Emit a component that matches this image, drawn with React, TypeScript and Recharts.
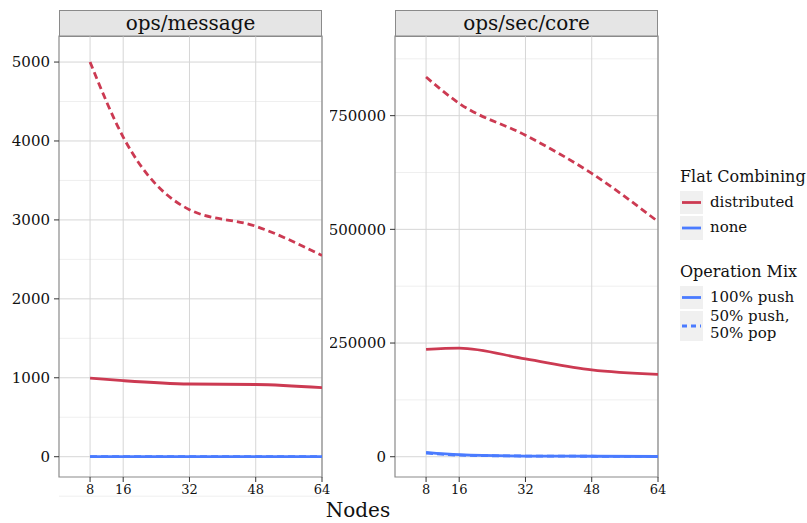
import { LineChart, Line, XAxis, YAxis, CartesianGrid, ReferenceArea } from 'recharts';

const FONT = '"DejaVu Serif", serif';
const RED = '#cc3a52';
const BLUE = '#4a7bff';

const nodes = [8, 16, 32, 48, 64];

// ops/message
const msgDistPush = [995, 963, 921, 915, 875];
const msgDistMix = [5000, 4050, 3130, 2920, 2550];
const msgNonePush = [0, 0, 0, 0, 0];
const msgNoneMix = [0, 0, 0, 0, 0];
const msgTicks = [0, 1000, 2000, 3000, 4000, 5000];
const msgMinor = [-500, 500, 1500, 2500, 3500, 4500];
const msgDomain = [-257, 5330];

// ops/sec/core
const coreDistPush = [236000, 239000, 215000, 191000, 181000];
const coreDistMix = [835000, 777000, 707000, 623000, 517000];
const coreNonePush = [9700, 4400, 1500, 1000, 500];
const coreNoneMix = [8000, 3500, 1500, 1000, 500];
const coreTicks = [0, 250000, 500000, 750000];
const coreMinor = [125000, 375000, 625000, 875000];
const coreDomain = [-44600, 925200];

const xDomain = [0.5, 64];

function rows(a: number[], b: number[], c: number[], d: number[]) {
  return nodes.map((n, i) => ({ nodes: n, distPush: a[i], distMix: b[i], nonePush: c[i], noneMix: d[i] }));
}

function Panel(props: {
  title: string; left: number; yWidth: number; data: any[];
  ticks: number[]; minor: number[]; domain: number[];
}) {
  const { title, left, yWidth, data, ticks, minor, domain } = props;
  const plotW = 263;
  const width = yWidth + plotW + 8;
  return (
    <div style={{ position: 'absolute', left, top: 0, width, height: 523 }}>
      <div style={{
        position: 'absolute', left: yWidth, top: 10, width: plotW, height: 27,
        background: '#e5e5e5', border: '1px solid #8a8a8a', boxSizing: 'border-box',
        fontFamily: FONT, fontSize: 20, lineHeight: '24px', textAlign: 'center', color: '#111',
      }}>{title}</div>
      <LineChart width={width} height={523} data={data}
        margin={{ top: 36, right: 8, bottom: 16, left: 0 }}>
        <CartesianGrid horizontalValues={minor} vertical={false} stroke="#efefef" strokeWidth={1} />
        <CartesianGrid horizontalValues={ticks} verticalValues={nodes} stroke="#d6d6d6" strokeWidth={1} />
        <XAxis dataKey="nodes" type="number" domain={xDomain} ticks={nodes} allowDataOverflow
          height={30} axisLine={false} tickSize={5} tickMargin={3} interval={0}
          tickLine={{ stroke: '#333' }}
          tick={{ fill: '#111', fontSize: 13, fontFamily: FONT }} />
        <YAxis type="number" domain={domain} ticks={ticks} allowDataOverflow
          width={yWidth} axisLine={false} tickSize={5} tickMargin={4} interval={0}
          tickLine={{ stroke: '#333' }}
          tick={{ fill: '#111', fontSize: 15, fontFamily: FONT }} />
        <Line dataKey="distMix" type="monotone" stroke={RED} strokeWidth={2.8} strokeDasharray="7 4" dot={false} isAnimationActive={false} />
        <Line dataKey="distPush" type="monotone" stroke={RED} strokeWidth={2.8} dot={false} isAnimationActive={false} />
        <Line dataKey="noneMix" type="monotone" stroke={BLUE} strokeWidth={2.8} strokeDasharray="7 4" dot={false} isAnimationActive={false} />
        <Line dataKey="nonePush" type="monotone" stroke={BLUE} strokeWidth={2.8} dot={false} isAnimationActive={false} />
        <ReferenceArea x1={xDomain[0]} x2={xDomain[1]} y1={domain[0]} y2={domain[1]}
          fill="none" stroke="#8a8a8a" strokeWidth={1.2} ifOverflow="visible" />
      </LineChart>
    </div>
  );
}

function Key(props: { top: number; height: number; color: string; dashed?: boolean }) {
  const { top, height, color, dashed } = props;
  return (
    <div style={{ position: 'absolute', left: 680, top, width: 23, height, background: '#f0f0f0' }}>
      <svg width={23} height={height} style={{ display: 'block' }}>
        <line x1={2} x2={21} y1={height / 2} y2={height / 2} stroke={color} strokeWidth={2.8}
          strokeDasharray={dashed ? '5 4' : undefined} />
      </svg>
    </div>
  );
}

const labelStyle = { position: 'absolute' as const, left: 710, fontFamily: FONT, fontSize: 15, color: '#111', lineHeight: '17px' };

export default function App() {
  return (
    <div style={{ position: 'fixed', left: 0, top: 0, width: 807, height: 523, background: '#fff' }}>
      <Panel title="ops/message" left={0} yWidth={59}
        data={rows(msgDistPush, msgDistMix, msgNonePush, msgNoneMix)}
        ticks={msgTicks} minor={msgMinor} domain={msgDomain} />
      <Panel title="ops/sec/core" left={330} yWidth={65}
        data={rows(coreDistPush, coreDistMix, coreNonePush, coreNoneMix)}
        ticks={coreTicks} minor={coreMinor} domain={coreDomain} />

      <div style={{ position: 'absolute', left: 0, top: 498, width: 716, textAlign: 'center', fontFamily: FONT, fontSize: 20, color: '#111' }}>Nodes</div>

      <div style={{ ...labelStyle, left: 680, top: 168, fontSize: 16 }}>Flat Combining</div>
      <Key top={191} height={23} color={RED} />
      <div style={{ ...labelStyle, top: 194 }}>distributed</div>
      <Key top={216} height={24} color={BLUE} />
      <div style={{ ...labelStyle, top: 219 }}>none</div>

      <div style={{ ...labelStyle, left: 680, top: 263, fontSize: 16 }}>Operation Mix</div>
      <Key top={286} height={23} color={BLUE} />
      <div style={{ ...labelStyle, top: 289 }}>100% push</div>
      <Key top={311} height={30} color={BLUE} dashed />
      <div style={{ ...labelStyle, top: 308 }}>50% push,<br />50% pop</div>
    </div>
  );
}
